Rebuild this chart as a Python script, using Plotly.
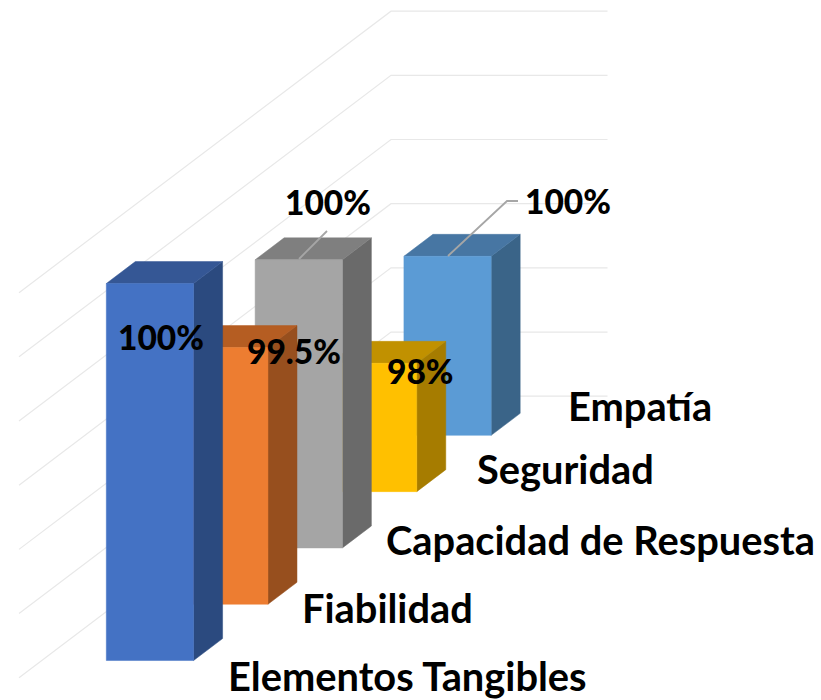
import plotly.graph_objects as go

# ---- data -------------------------------------------------------------
categories = ["Elementos Tangibles", "Fiabilidad", "Capacidad de Respuesta", "Seguridad", "Empatía"]
bar_heights = [5.875, 4.0, 4.49, 2.0, 2.79]   # in gridline intervals, as drawn
value_labels = ["100%", "99.5%", "100%", "98%", "100%"]
gridline_levels = [0, 1, 2, 3, 4, 5, 6]

front_colors = ["#4472C4", "#ED7D31", "#A5A5A5", "#FFC000", "#5B9BD5"]
top_colors = ["#355795", "#B55D22", "#7F7F7F", "#C19100", "#4776A3"]
side_colors = ["#2B4A7F", "#974F1E", "#6A6A6A", "#A67C00", "#3A6488"]

# ---- oblique view ------------------------------------------------------
WALL_W = 216.5    # px of the full category width
UNIT_H = 64.17    # px per gridline interval
DEPTH_X = 74.4    # px per category, along the depth direction
DEPTH_Y = 56.3
ORIGIN_X = 19.0   # px of the front floor corner
ORIGIN_Y = 677.7
W, H = 821, 700
BAR_U = (0.2985, 0.7015)
BAR_D = (0.305, 0.695)


def project(u, d, v):
    """width fraction, depth in categories, value -> axis coordinates"""
    return u + d * DEPTH_X / WALL_W, v + d * DEPTH_Y / UNIT_H


def poly(points, color):
    xs, ys = zip(*[project(*p) for p in points])
    return go.Scatter(
        x=list(xs) + [xs[0]], y=list(ys) + [ys[0]], mode="lines", fill="toself",
        fillcolor=color, line=dict(color=color, width=0.5),
        hoverinfo="skip", showlegend=False,
    )


fig = go.Figure()

# walls: floor-to-back diagonal then the back wall line
for lv in gridline_levels:
    pts = [project(0, 0, lv), project(0, 5, lv), project(1, 5, lv)]
    fig.add_trace(go.Scatter(
        x=[p[0] for p in pts], y=[p[1] for p in pts], mode="lines",
        line=dict(color="#E8E8E8", width=1.2), hoverinfo="skip", showlegend=False,
    ))

# bars, back to front
for i in reversed(range(len(categories))):
    h = bar_heights[i]
    u0, u1 = BAR_U
    d0, d1 = i + BAR_D[0], i + BAR_D[1]
    fig.add_trace(poly([(u1, d0, 0), (u1, d1, 0), (u1, d1, h), (u1, d0, h)], side_colors[i]))
    fig.add_trace(poly([(u0, d0, h), (u1, d0, h), (u1, d1, h), (u0, d1, h)], top_colors[i]))
    fig.add_trace(poly([(u0, d0, 0), (u1, d0, 0), (u1, d0, h), (u0, d0, h)], front_colors[i]))


def to_axis(px, py):
    return (px - ORIGIN_X) / WALL_W, (ORIGIN_Y - py) / UNIT_H


# leader lines
for path in ([(299, 259), (327, 231)], [(448, 256), (507, 201), (518, 201)]):
    pts = [to_axis(*p) for p in path]
    fig.add_trace(go.Scatter(
        x=[p[0] for p in pts], y=[p[1] for p in pts], mode="lines",
        line=dict(color="#A6A6A6", width=1.8), hoverinfo="skip", showlegend=False,
    ))

FONT = dict(family="Lato", color="#000000")
SIZE_CAT = 39.8
SIZE_VAL = 33.5

label_anchor = [(407, 675), (387, 607), (600, 539), (565, 468), (640, 405)]
for name, (px, py) in zip(categories, label_anchor):
    ax, ay = to_axis(px, py)
    fig.add_annotation(x=ax, y=ay, text=name, showarrow=False, xanchor="center", yanchor="middle",
                       font=dict(size=SIZE_CAT, weight=700, **FONT))

value_anchor = [(328, 202), (568, 201), (161, 337), (294, 351), (420, 371)]
value_order = [2, 4, 0, 1, 3]
for idx, (px, py) in zip(value_order, value_anchor):
    ax, ay = to_axis(px, py)
    fig.add_annotation(x=ax, y=ay, text=value_labels[idx], showarrow=False, xanchor="center", yanchor="middle",
                       font=dict(size=SIZE_VAL, weight=900, **FONT))

x_range = [to_axis(0, 0)[0], to_axis(W, 0)[0]]
y_range = [to_axis(0, H)[1], to_axis(0, 0)[1]]
fig.update_layout(
    width=W, height=H, margin=dict(l=0, r=0, t=0, b=0),
    paper_bgcolor="#FFFFFF", plot_bgcolor="#FFFFFF", showlegend=False,
    xaxis=dict(range=x_range, visible=False, fixedrange=True),
    yaxis=dict(range=y_range, visible=False, fixedrange=True),
)
fig.write_html("out.html", config={"displayModeBar": False},
               post_script="document.body.style.margin='0';document.documentElement.style.overflow='hidden';")
